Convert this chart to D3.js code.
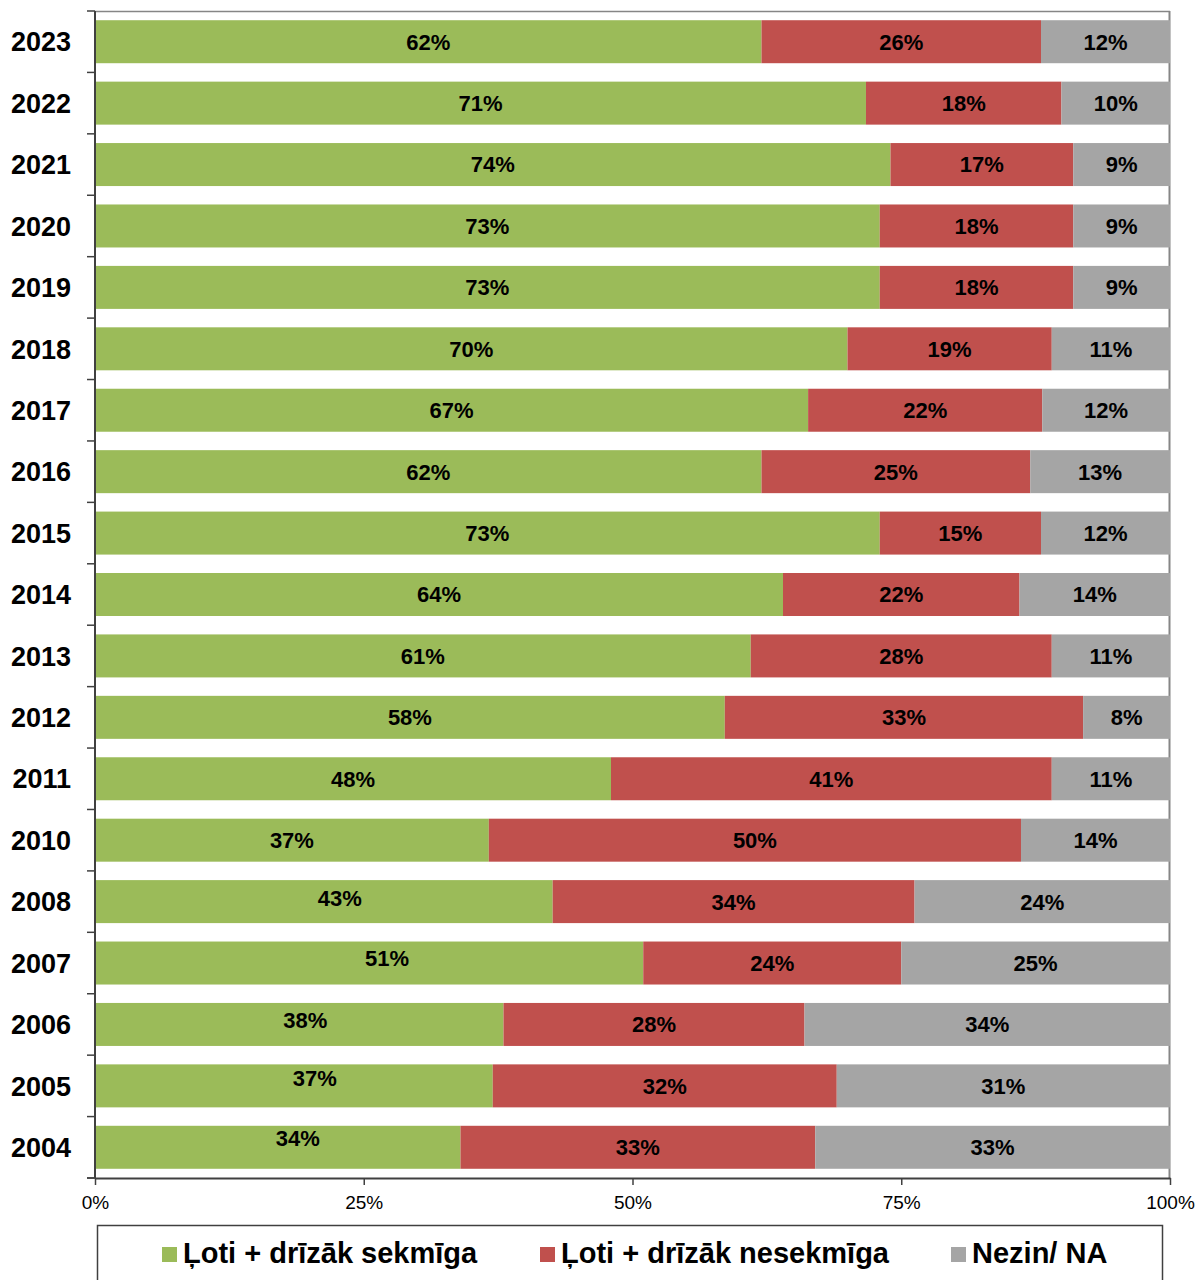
<!DOCTYPE html>
<html>
<head>
<meta charset="utf-8">
<script src="https://cdn.jsdelivr.net/npm/d3@7"></script>
<style>
  html, body { margin: 0; padding: 0; background: #ffffff; }
  svg { display: block; font-family: "Liberation Sans", Arial, Helvetica, sans-serif; }
</style>
</head>
<body>
<svg id="chart" width="1198" height="1280"></svg>
<script>
// Survey years, newest first (2009 was not surveyed)
const years = ["2023","2022","2021","2020","2019","2018","2017","2016","2015","2014","2013","2012","2011","2010","2008","2007","2006","2005","2004"];
// Share of answers per year, in percent
const successful   = [62, 71, 74, 73, 73, 70, 67, 62, 73, 64, 61, 58, 48, 37, 43, 51, 38, 37, 34];
const unsuccessful = [26, 18, 17, 18, 18, 19, 22, 25, 15, 22, 28, 33, 41, 50, 34, 24, 28, 32, 33];
const dontKnow     = [12, 10,  9,  9,  9, 11, 12, 13, 12, 14, 11,  8, 11, 14, 24, 25, 34, 31, 33];
// Series names shown in the legend
const seriesNames = ["Ļoti + drīzāk sekmīga", "Ļoti + drīzāk nesekmīga", "Nezin/ NA"];
// Axis tick values and their labels
const xTicks = [0, 0.25, 0.5, 0.75, 1];
const xTickLabels = ["0%", "25%", "50%", "75%", "100%"];

const keys = ["s", "u", "n"];
const colors = { s: "#9BBB59", u: "#C0504D", n: "#A5A5A5" };

const rows = years.map((y, i) => ({ year: y, s: successful[i], u: unsuccessful[i], n: dontKnow[i] }));

const plot = { left: 95, right: 1170, top: 11, bottom: 1178 };
const svg = d3.select("#chart");

const x = d3.scaleLinear().domain([0, 1]).range([plot.left, plot.right]);
const y = d3.scaleBand().domain(years).range([plot.top, plot.bottom])
  .paddingInner(0.3).paddingOuter(0.15);

const stacked = d3.stack().keys(keys).offset(d3.stackOffsetExpand)(rows);

// Plot frame: grey top and right edges
svg.append("line").attr("x1", plot.left).attr("x2", plot.right)
  .attr("y1", plot.top + 0.5).attr("y2", plot.top + 0.5)
  .attr("stroke", "#868686").attr("stroke-width", 1.5);
svg.append("line").attr("x1", plot.right - 0.5).attr("x2", plot.right - 0.5)
  .attr("y1", plot.top).attr("y2", plot.bottom)
  .attr("stroke", "#868686").attr("stroke-width", 2);

// Stacked bars
const layers = svg.append("g").selectAll("g").data(stacked).join("g")
  .attr("fill", d => colors[d.key]);
layers.selectAll("rect").data(d => d).join("rect")
  .attr("x", d => x(d[0]))
  .attr("width", d => x(d[1]) - x(d[0]))
  .attr("y", d => y(d.data.year))
  .attr("height", y.bandwidth());

// Small hand placement for a few of the older green labels
const labelNudge = {
  "2008": [16, -4], "2007": [18, -5], "2006": [6, -4], "2005": [21, -8], "2004": [20, -9]
};

// Value labels centred in each segment
const labelLayer = svg.append("g")
  .attr("font-size", 22).attr("font-weight", "bold").attr("fill", "#000")
  .attr("text-anchor", "middle");
stacked.forEach(layer => {
  const vals = layer.key === "s" ? successful : layer.key === "u" ? unsuccessful : dontKnow;
  labelLayer.selectAll(null).data(layer).join("text")
    .attr("x", d => (x(d[0]) + x(d[1])) / 2 +
      (layer.key === "s" && labelNudge[d.data.year] ? labelNudge[d.data.year][0] : 0))
    .attr("y", d => y(d.data.year) + y.bandwidth() / 2 +
      (layer.key === "s" && labelNudge[d.data.year] ? labelNudge[d.data.year][1] : 0))
    .attr("dy", "0.36em")
    .text((d, i) => vals[i] + "%");
});

// Left axis: line, ticks between categories, year labels
const step = y.step();
const gy = svg.append("g");
gy.append("line").attr("x1", plot.left).attr("x2", plot.left)
  .attr("y1", plot.top).attr("y2", plot.bottom)
  .attr("stroke", "#404040").attr("stroke-width", 2);
const bounds = years.map(yr => y(yr) - step * 0.15).concat([plot.bottom]);
gy.selectAll(".tk").data(bounds).join("line")
  .attr("x1", plot.left - 8).attr("x2", plot.left)
  .attr("y1", d => d).attr("y2", d => d)
  .attr("stroke", "#404040").attr("stroke-width", 1.5);
gy.selectAll("text").data(years).join("text")
  .attr("x", 71).attr("y", d => y(d) + y.bandwidth() / 2)
  .attr("dy", "0.36em").attr("text-anchor", "end")
  .attr("font-size", 27).attr("font-weight", "bold").attr("fill", "#000")
  .text(d => d);

// Bottom axis
const gx = svg.append("g").attr("transform", `translate(0,${plot.bottom})`)
  .call(d3.axisBottom(x).tickValues(xTicks)
    .tickFormat((d, i) => xTickLabels[i]).tickSize(7).tickPadding(11).tickSizeOuter(0));
gx.select(".domain").attr("stroke", "#404040").attr("stroke-width", 2);
gx.selectAll(".tick line").attr("stroke", "#404040").attr("stroke-width", 1.5);
gx.selectAll(".tick text").attr("font-size", 19).attr("fill", "#000")
  .attr("font-family", "\"Liberation Sans\", Arial, sans-serif");
gx.append("line").attr("x1", plot.left - 8).attr("x2", plot.left)
  .attr("y1", 0).attr("y2", 0).attr("stroke", "#404040").attr("stroke-width", 1.5);

// Legend box
const legend = svg.append("g");
legend.append("rect").attr("x", 97.5).attr("y", 1225.5).attr("width", 1065).attr("height", 90)
  .attr("fill", "none").attr("stroke", "#404040").attr("stroke-width", 1.5);
const legendX = [162, 540, 951];
const item = legend.selectAll(".item").data(keys).join("g")
  .attr("transform", (d, i) => `translate(${legendX[i]},1247)`);
item.append("rect").attr("width", 15).attr("height", 15).attr("fill", d => colors[d]);
item.append("text").attr("x", 21).attr("y", 16)
  .attr("font-size", 29).attr("font-weight", "bold").attr("fill", "#000")
  .text((d, i) => seriesNames[i]);
</script>
</body>
</html>
